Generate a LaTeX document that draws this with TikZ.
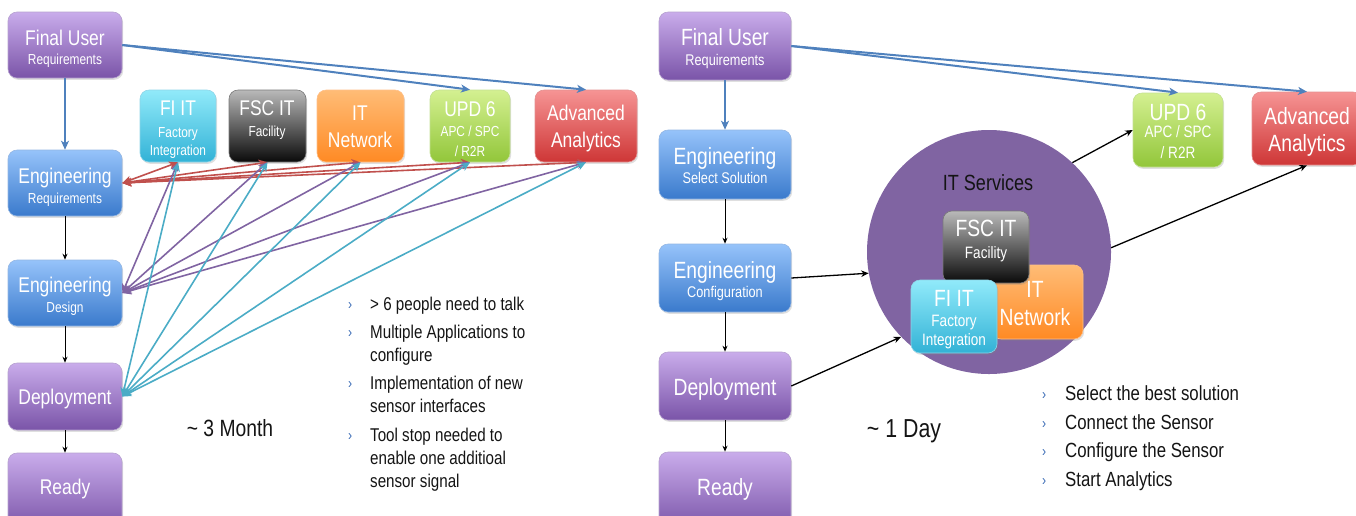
\documentclass[tikz,border=0pt]{standalone}
\usepackage{fontspec}
\setmainfont{Liberation Sans}[FakeStretch=0.82]
\usetikzlibrary{arrows.meta,shadows}
\definecolor{purT}{RGB}{201,172,235}\definecolor{purB}{RGB}{122,84,168}
\definecolor{bluT}{RGB}{150,195,250}\definecolor{bluB}{RGB}{58,122,204}
\definecolor{cyaT}{RGB}{145,234,250}\definecolor{cyaB}{RGB}{50,178,214}
\definecolor{gryT}{RGB}{185,185,185}\definecolor{gryB}{RGB}{10,10,10}
\definecolor{orgT}{RGB}{255,188,118}\definecolor{orgB}{RGB}{255,138,36}
\definecolor{grnT}{RGB}{212,240,145}\definecolor{grnB}{RGB}{146,198,58}
\definecolor{redT}{RGB}{246,148,148}\definecolor{redB}{RGB}{206,54,54}
\definecolor{arRed}{RGB}{192,80,77}\definecolor{arPur}{RGB}{128,100,162}
\definecolor{arCya}{RGB}{75,172,198}\definecolor{arBlu}{RGB}{79,129,189}
\definecolor{bulC}{RGB}{55,105,180}
\definecolor{circ}{RGB}{128,100,162}\definecolor{txt}{RGB}{20,20,20}
\newcommand{\bulL}{\llap{\raisebox{1.5pt}{\textcolor{bulC}{\fontsize{15}{15}\selectfont ›}}\hspace{18pt}}\rule{0pt}{14pt}}
\newcommand{\bulR}{\llap{\raisebox{1.5pt}{\textcolor{bulC}{\fontsize{15}{15}\selectfont ›}}\hspace{19pt}}\rule{0pt}{15.5pt}}
\begin{document}
\begin{tikzpicture}[x=1pt,y=-1pt,
  box/.style 2 args={rounded corners=9pt, top color=#1, bottom color=#2,
    draw=#2!55!white, line width=0.6pt, inner sep=0pt,
    drop shadow={shadow xshift=1.2pt, shadow yshift=-1.8pt, opacity=0.25}},
  pbox/.style={box={purT}{purB}}, bbox/.style={box={bluT}{bluB}},
  cbox/.style={box={cyaT}{cyaB}}, gbox/.style={box={gryT}{gryB}},
  obox/.style={box={orgT}{orgB}}, grbox/.style={box={grnT}{grnB}},
  rbox/.style={box={redT}{redB}},
  ttl/.style={text=white, inner sep=0pt, font=\fontsize{21.3}{25}\selectfont, text height=15.2pt, text depth=0pt},
  sub/.style={text=white, inner sep=0pt, font=\fontsize{14.5}{17}\selectfont, text height=10.4pt, text depth=0pt},
  ttlR/.style={text=white, inner sep=0pt, font=\fontsize{23.5}{27}\selectfont, text height=16.8pt, text depth=0pt},
  subR/.style={text=white, inner sep=0pt, font=\fontsize{15.5}{18}\selectfont, text height=11.1pt, text depth=0pt},
  subC/.style={text=white, inner sep=0pt, font=\fontsize{16.5}{19}\selectfont, text height=11.8pt, text depth=0pt},
  lnk/.style={line width=1.6pt, {Stealth[length=9pt,width=8pt,inset=2.5pt]}-{Stealth[length=9pt,width=8pt,inset=2.5pt]}},
  bluarr/.style={draw=arBlu, line width=2pt, -{Stealth[length=9pt,width=8pt,inset=2.5pt]}},
  blk/.style={draw=black, line width=1pt, -{Stealth[length=6pt,width=5pt]}},
  blkR/.style={draw=black, line width=1.3pt, -{Stealth[length=7.5pt,width=6.5pt]}},
  bulL/.style={text=txt, inner sep=0pt, align=left, anchor=north west, font=\fontsize{18.5}{23}\selectfont},
  bulR/.style={text=txt, inner sep=0pt, align=left, anchor=north west, font=\fontsize{20.5}{24}\selectfont},
  big/.style={text=txt, inner sep=0pt}
]
\useasboundingbox (0,0) rectangle (1356,515);

% ===== LEFT =====
\node[pbox, minimum width=114pt, minimum height=66pt] (fu1) at (65,45) {};
\node[bbox, minimum width=114pt, minimum height=66pt] (er1) at (65,183) {};
\node[bbox, minimum width=114pt, minimum height=66pt] (ed1) at (65,293) {};
\node[pbox, minimum width=114pt, minimum height=67pt] (dp1) at (65,396.5) {};
\node[pbox, minimum width=114pt, minimum height=77pt] (rd1) at (65,491.5) {};

\node[cbox, minimum width=76pt, minimum height=72pt] (fi1) at (178,126) {};
\node[gbox, minimum width=77pt, minimum height=72pt] (fsc1) at (267.5,126) {};
\node[obox, minimum width=87pt, minimum height=72pt] (net1) at (360.5,126) {};
\node[grbox, minimum width=80pt, minimum height=72pt] (upd1) at (470,126) {};
\node[rbox, minimum width=102pt, minimum height=72pt] (aa1) at (586,126) {};

\node[ttl] (fu1a) at (65,38) {Final User};
\node[sub] (fu1b) at (65,59) {Requirements};
\node[ttl] (er1a) at (65,176) {Engineering};
\node[sub] (er1b) at (65,198) {Requirements};
\node[ttl] (ed1a) at (65,285) {Engineering};
\node[sub] (ed1b) at (65,307) {Design};
\node[ttl] (dp1a) at (65,397) {Deployment};
\node[ttl] (rd1a) at (65,487) {Ready};
\node[ttl] (fi1a) at (178,108) {FI IT};
\node[sub] (fi1b) at (178,132) {Factory};
\node[sub] (fi1c) at (178,150) {Integration};
\node[ttl] (fsc1a) at (267,108) {FSC IT};
\node[sub] (fsc1b) at (267,131) {Facility};
\node[ttl] (net1a) at (360,113) {IT};
\node[ttl] (net1b) at (360,140) {Network};
\node[ttl] (upd1a) at (470,109) {UPD 6};
\node[sub] (upd1b) at (470,131) {APC / SPC};
\node[sub] (upd1c) at (470,151) {/ R2R};
\node[ttl] (aa1a) at (586,113) {Advanced};
\node[ttl] (aa1b) at (586,140) {Analytics};

% connectors left
\draw[bluarr] (fu1.south) -- (er1.north);
\draw[bluarr] (fu1.east) -- (upd1.north);
\draw[bluarr] (fu1.east) -- (aa1.north);
\draw[blk] (er1.south) -- (ed1.north);
\draw[blk] (ed1.south) -- (dp1.north);
\draw[blk] (dp1.south) -- (rd1.north);
\foreach \t in {fi1,fsc1,net1,upd1,aa1} \draw[lnk, draw=arRed, color=arRed] (er1.east) -- (\t.south);
\foreach \t in {fi1,fsc1,net1,upd1,aa1} \draw[lnk, draw=arPur, color=arPur] (ed1.east) -- (\t.south);
\foreach \t in {fi1,fsc1,net1,upd1,aa1} \draw[lnk, draw=arCya, color=arCya] (dp1.east) -- (\t.south);

\node[big, font=\fontsize{23.5}{27}\selectfont, text height=16.8pt, text depth=0pt] (t3m) at (230,428) {\char`\~\ 3 Month};

\node[bulL] (l1) at (370,296.6) {\bulL> 6 people need to talk};
\node[bulL] (l2) at (370,324.6) {\bulL Multiple Applications to\\configure};
\node[bulL] (l3) at (370,375.6) {\bulL Implementation of new\\sensor interfaces};
\node[bulL] (l4) at (370,427.6) {\bulL Tool stop needed to\\enable one additioal\\sensor signal};

% ===== RIGHT =====
\node[pbox, minimum width=132pt, minimum height=68pt] (fu2) at (725,46) {};
\node[bbox, minimum width=132pt, minimum height=69pt] (es2) at (725,164.5) {};
\node[bbox, minimum width=132pt, minimum height=68pt] (ec2) at (725,278) {};
\node[pbox, minimum width=132pt, minimum height=68pt] (dp2) at (725,386) {};
\node[pbox, minimum width=132pt, minimum height=78pt] (rd2) at (725,491) {};
\node[grbox, minimum width=90pt, minimum height=74pt] (upd2) at (1178,130) {};
\node[rbox, minimum width=110pt, minimum height=73pt] (aa2) at (1307,128.5) {};

\node[circle, fill=circ, minimum size=244pt, inner sep=0pt] (cir) at (989,252) {};
\node[big, font=\fontsize{22}{26}\selectfont, text height=15.8pt, text depth=0pt] (its) at (988,183) {IT Services};
\node[obox, minimum width=91pt, minimum height=74pt] (net2) at (1037.5,302) {};
\node[gbox, minimum width=86pt, minimum height=72pt] (fsc2) at (986,247) {};
\node[cbox, minimum width=86pt, minimum height=73pt] (fi2) at (954,316.5) {};

\node[ttlR] (fu2a) at (725,37) {Final User};
\node[subR] (fu2b) at (725,60) {Requirements};
\node[ttlR] (es2a) at (725,156) {Engineering};
\node[subR] (es2b) at (725,178) {Select Solution};
\node[ttlR] (ec2a) at (725,270) {Engineering};
\node[subR] (ec2b) at (725,292) {Configuration};
\node[ttlR] (dp2a) at (725,387) {Deployment};
\node[ttlR] (rd2a) at (725,487) {Ready};
\node[ttlR] (upd2a) at (1178,112) {UPD 6};
\node[subC] (upd2b) at (1178,132) {APC / SPC};
\node[subC] (upd2c) at (1178,153) {/ R2R};
\node[ttlR] (aa2a) at (1307,116) {Advanced};
\node[ttlR] (aa2b) at (1307,143) {Analytics};
\node[ttlR] (fsc2a) at (986,228) {FSC IT};
\node[subC] (fsc2b) at (986,253) {Facility};
\node[ttlR] (net2a) at (1035,289) {IT};
\node[ttlR] (net2b) at (1035,317) {Network};
\node[ttlR] (fi2a) at (954,298) {FI IT};
\node[subC] (fi2b) at (954,321) {Factory};
\node[subC] (fi2c) at (954,340) {Integration};

\draw[bluarr] (fu2.south) -- (es2.north);
\draw[bluarr] (fu2.east) -- (upd2.north);
\draw[bluarr] (fu2.east) -- (aa2.north);
\draw[blk] (es2.south) -- (ec2.north);
\draw[blk] (ec2.south) -- (dp2.north);
\draw[blk] (dp2.south) -- (rd2.north);
\draw[blkR] (ec2.east) -- (cir.190);
\draw[blkR] (dp2.east) -- (cir.224);
\draw[blkR] (cir.47) -- (upd2.west);
\draw[blkR] (cir.2) -- (aa2.south);

\node[big, font=\fontsize{26}{30}\selectfont, text height=18.6pt, text depth=0pt] (t1d) at (904,428) {\char`\~\ 1 Day};

\node[bulR] (r1) at (1065,384.9) {\bulR Select the best solution};
\node[bulR] (r2) at (1065,413.9) {\bulR Connect the Sensor};
\node[bulR] (r3) at (1065,441.9) {\bulR Configure the Sensor};
\node[bulR] (r4) at (1065,470.9) {\bulR Start Analytics};
\end{tikzpicture}
\end{document}
